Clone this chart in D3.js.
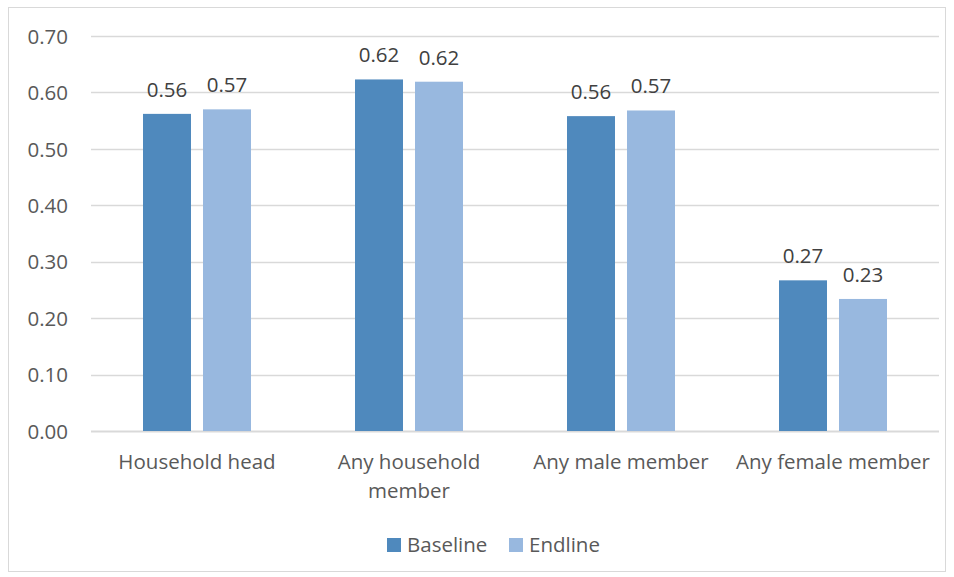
<!DOCTYPE html>
<html>
<head>
<meta charset="utf-8">
<script src="https://cdn.jsdelivr.net/npm/d3@7"></script>
<style>
  html, body { margin: 0; padding: 0; background: #fff; }
  svg { display: block; font-family: "Open Sans", "Noto Sans", sans-serif; }
</style>
</head>
<body>
<svg id="chart" width="954" height="577"></svg>
<script>
// Share of respondents, by household member, at baseline and endline
const categories = [["Household head"], ["Any household", "member"], ["Any male member"], ["Any female member"]];
const seriesNames = ["Baseline", "Endline"];
const baseline = [0.562, 0.623, 0.558, 0.267];
const endline  = [0.570, 0.619, 0.568, 0.234];
const yTicks = [0, 0.1, 0.2, 0.3, 0.4, 0.5, 0.6, 0.7];
const colors = ["#4F89BD", "#98B8DF"];

const svg = d3.select("#chart");
const W = 954, H = 577;
const plot = { left: 91, right: 939, top: 36, bottom: 431 };
const fontSize = "20.5px";

// outer frame
svg.append("rect")
  .attr("x", 8.5).attr("y", 7.5)
  .attr("width", W - 17).attr("height", H - 13)
  .attr("fill", "#fff").attr("stroke", "#D9D9D9").attr("stroke-width", 1);

const keys = categories.map(c => c.join(" "));
const rows = keys.map((k, i) => ({ key: k, lines: categories[i], values: [baseline[i], endline[i]] }));

const x0 = d3.scaleBand().domain(keys).range([plot.left, plot.right])
  .paddingInner(0.4906).paddingOuter(0.2453);
const x1 = d3.scaleBand().domain(seriesNames).range([0, x0.bandwidth()]).paddingInner(0.2);
const y = d3.scaleLinear().domain([0, 0.7]).range([plot.bottom, plot.top]);

// horizontal gridlines
svg.append("g").selectAll("line").data(yTicks).join("line")
  .attr("x1", plot.left).attr("x2", plot.right)
  .attr("y1", d => Math.round(y(d)) + 0.5).attr("y2", d => Math.round(y(d)) + 0.5)
  .attr("stroke", "#D9D9D9").attr("stroke-width", d => d === 0 ? 2 : 1.3);

// y axis labels
const yAxis = d3.axisLeft(y).tickValues(yTicks).tickFormat(d3.format(".2f")).tickSize(0).tickPadding(0);
const gy = svg.append("g").attr("transform", `translate(${68},0)`).call(yAxis);
gy.select(".domain").remove();
gy.selectAll("text").attr("fill", "#595959").style("font-size", fontSize)
  .style("font-family", "'Open Sans', sans-serif").attr("dy", "0.35em");

// bars
const groups = svg.append("g").selectAll("g").data(rows).join("g")
  .attr("transform", d => `translate(${x0(d.key)},0)`);

groups.selectAll("rect").data(d => d.values.map((v, i) => ({ s: seriesNames[i], v, i }))).join("rect")
  .attr("x", d => x1(d.s)).attr("width", x1.bandwidth())
  .attr("y", d => y(d.v)).attr("height", d => y(0) - y(d.v))
  .attr("fill", d => colors[d.i]);

// value labels
groups.selectAll("text.val").data(d => d.values.map((v, i) => ({ s: seriesNames[i], v, i }))).join("text")
  .attr("class", "val")
  .attr("x", d => x1(d.s) + x1.bandwidth() / 2)
  .attr("y", d => y(d.v) - 17)
  .attr("text-anchor", "middle")
  .attr("fill", "#404040").style("font-size", fontSize)
  .text(d => d3.format(".2f")(d.v));

// category labels
const xAxis = svg.append("g");
xAxis.selectAll("text").data(rows).join("text")
  .attr("x", d => x0(d.key) + x0.bandwidth() / 2)
  .attr("y", 469)
  .attr("text-anchor", "middle")
  .attr("fill", "#595959").style("font-size", fontSize)
  .selectAll("tspan").data(d => d.lines).join("tspan")
  .attr("x", function() { return d3.select(this.parentNode).attr("x"); })
  .attr("dy", (d, i) => i === 0 ? 0 : 29)
  .text(d => d);

// legend
const legend = svg.append("g");
const legendItems = [{ name: seriesNames[0], x: 387 }, { name: seriesNames[1], x: 509 }];
legendItems.forEach((it, i) => {
  legend.append("rect").attr("x", it.x).attr("y", 538).attr("width", 14).attr("height", 14)
    .attr("fill", colors[i]);
  legend.append("text").attr("x", it.x + 20).attr("y", 552)
    .attr("fill", "#595959").style("font-size", fontSize).text(it.name);
});
</script>
</body>
</html>
